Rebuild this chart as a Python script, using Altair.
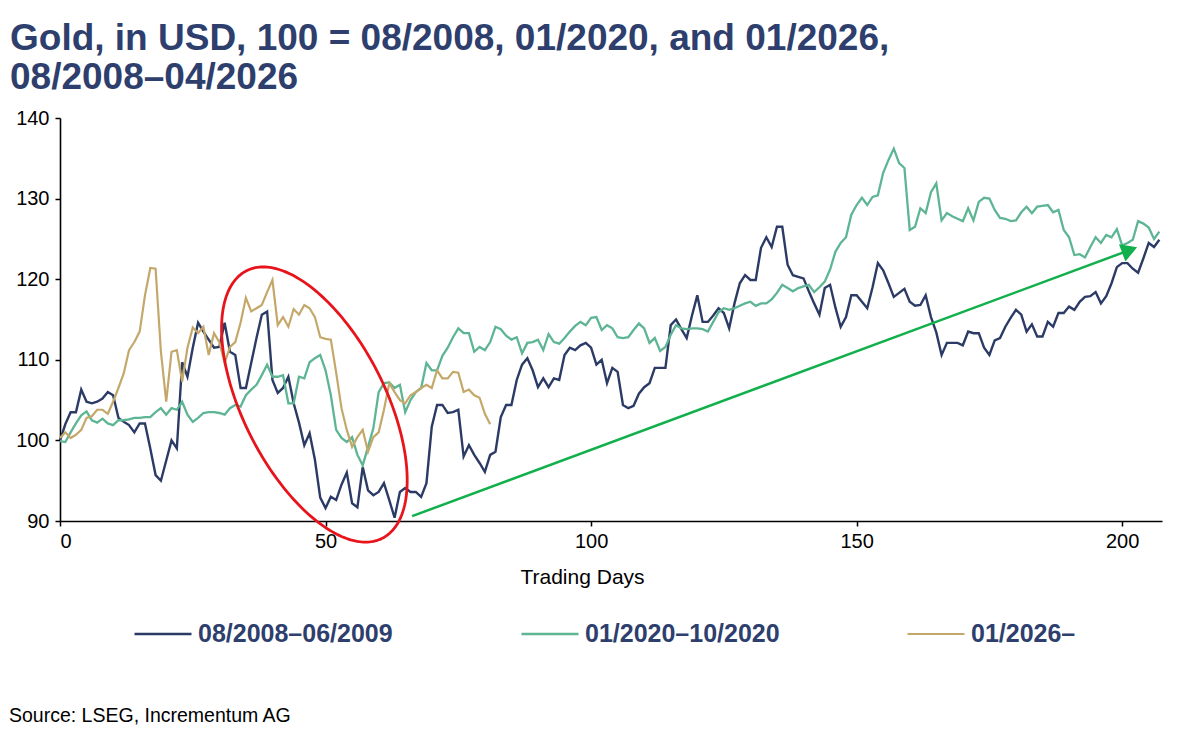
import altair as alt
import pandas as pd
import numpy as np

# ---------------- data ----------------
SERIES = ["08/2008–06/2009", "01/2020–10/2020", "01/2026–"]
COLORS = ["#2b3b66", "#5db594", "#c4a86a"]
WIDTHS = [2.4, 2.2, 3.0]

gold_2008 = [
    100, 102, 103.5, 103.5, 106.3, 104.8, 104.6, 104.8, 105.2, 106,
    105.6, 102.8, 102.3, 101.9, 101, 102.1, 102.1, 99, 95.7, 95,
    97.5, 100, 99, 109.7, 107.9, 111.5, 114.6, 113.5, 112.5, 111.5,
    111.6, 114.6, 111, 110.6, 106.5, 106.5, 109.6, 112.7, 115.6, 116,
    107.5, 105.9, 106.5, 107.9, 104.6, 102.2, 99.4, 100.9, 97.6, 92.9,
    91.6, 93, 92.6, 94.5, 96, 92.2, 91.7, 96.7, 93.8, 93.2,
    93.6, 94.7, 92.6, 90.4, 93.6, 94.1, 93.6, 93.6, 93, 94.7,
    101.7, 104.4, 104.4, 103.4, 103.5, 103.8, 98, 99.4, 98.2, 97.2,
    96.1, 98.2, 98.6, 102.9, 104.4, 104.4, 107.5, 109.4, 110.2, 108.7,
    106.6, 107.7, 106.6, 107.7, 107.5, 110.6, 111.5, 111.2, 111.8, 112.1,
    111.5, 109.4, 110, 107.1, 109, 108.5, 104.4, 104, 104.3, 105.8,
    106.6, 107.1, 109, 109, 109, 114.3, 115, 113.8, 112.7, 115.5,
    118, 114.7, 114.7, 115.5, 116.4, 115.8, 113.9, 117, 119.5, 120.5,
    119.9, 119.9, 123.9, 125.2, 124, 126.5, 126.5, 121.8, 120.5, 120.3,
    120.1, 118.5, 117, 115.6, 118.9, 119.3, 116.5, 114.1, 115.3, 118,
    118, 117.2, 116.4, 119, 122, 121.1, 119.5, 117.8, 118.3, 118.8,
    117.2, 116.7, 116.8, 118, 115.3, 113.4, 110.6, 112.1, 112.1, 112.1,
    111.8, 113.5, 113.3, 113.3, 111.5, 110.6, 112.4, 112.7, 114.1, 115.2,
    116.2, 115.6, 113.5, 114.4, 112.9, 112.9, 114.7, 114.1, 115.8, 115.8,
    116.6, 116.2, 117.2, 117.8, 117.9, 118.4, 117, 117.9, 119.5, 121.5,
    122, 122, 121.3, 120.8, 122.6, 124.5, 124, 124.9,
]

gold_2020 = [
    99.9, 99.8, 101, 102.1, 103.1, 103.6, 102.5, 102.2, 102.7, 102.1,
    101.9, 102.5, 102.5, 102.6, 102.8, 102.8, 102.9, 102.9, 103.5, 104,
    103.2, 104, 103.8, 104.8, 103.2, 102.3, 102.8, 103.4, 103.5, 103.5,
    103.4, 103.2, 104, 104.4, 104.2, 105.6, 106.3, 106.9, 108.1, 109.4,
    107.9, 107.9, 108.1, 104.6, 104.6, 107.9, 107.7, 109.7, 110.2, 110.6,
    108.7, 105.6, 101.3, 100.3, 99.8, 100.4, 98.2, 96.9, 99.2, 101.5,
    106, 107.1, 107.2, 106.5, 106.9, 103.5, 105, 106, 106.5, 109.6,
    108.7, 108.7, 110.5, 111.5, 112.8, 113.9, 113.3, 113.3, 111, 111.6,
    111.2, 112.2, 114.1, 113.8, 113, 112.5, 112.8, 110.8, 112.1, 112.2,
    112.5, 111.2, 113.2, 112.2, 112, 112.7, 113.5, 114.2, 114.7, 114.3,
    115.2, 115.3, 113.7, 114.3, 113.9, 112.8, 112.7, 112.8, 113.7, 114.5,
    113.9, 112.1, 112.7, 111.1, 111.6, 113.1, 114.3, 113.9, 113.8, 113.9,
    113.9, 113.8, 113.5, 114.7, 115.9, 116.4, 116.2, 116.4, 116.7, 117,
    117.2, 116.7, 117, 117, 117.5, 118.3, 119.3, 118.9, 118.5, 118.9,
    119.1, 119.3, 118.4, 119, 119.7, 121.2, 123.4, 124.5, 125.2, 128,
    129.2, 130.1, 129.2, 130.2, 130.4, 133.2, 134.8, 136.2, 134.4, 133.8,
    126.1, 126.5, 128.8, 128.2, 130.8, 131.9, 127.3, 128.2, 127.8, 127.5,
    127.2, 128.8, 127.3, 129.6, 130.1, 130, 128.6, 127.6, 127.5, 127.2,
    127.3, 128.3, 129, 128.2, 129, 129.1, 129.2, 128.3, 128.6, 126.1,
    125.2, 123, 123.1, 122.7, 124, 125.2, 124.5, 125.5, 125.2, 126.2,
    124.2, 124.5, 124.9, 127.2, 126.9, 126.4, 125, 125.9,
]

gold_2026 = [
    100.3, 101, 100.3, 100.7, 101.3, 102.8, 103, 103.8, 103.8, 103.3,
    104.8, 106.5, 108.3, 111.2, 112.2, 113.5, 118, 121.4, 121.3, 111,
    104.8, 111, 111.2, 107.3, 111.5, 114, 113.3, 114.1, 110.6, 113.3,
    112.2, 109.6, 111.6, 112.2, 114.6, 117.7, 116, 116.4, 116.8, 118.4,
    119.9, 114.3, 115.3, 114.1, 116.3, 115.6, 116.8, 116.4, 115.3, 112.8,
    112.6, 112.5, 108.4, 104, 101.3, 99.2, 100.4, 101.3, 98.6, 100.4,
    101, 103.8, 107.1, 106, 105, 104.6, 105.6, 106, 106.5, 106.9,
    106.5, 108.7, 107.7, 107.7, 108.5, 108.4, 106, 106.3, 105.6, 105.3,
    103.3, 102,
]

X_TICKS = [0, 50, 100, 150, 200]
Y_TICKS = [90, 100, 110, 120, 130, 140]
X_DOMAIN = [0, 207.5]
Y_DOMAIN = [90, 140]

TITLE_1 = "Gold, in USD, 100 = 08/2008, 01/2020, and 01/2026,"
TITLE_2 = "08/2008–04/2026"
X_TITLE = "Trading Days"
SOURCE = "Source: LSEG, Incrementum AG"

# annotation definitions (data units for anchors)
ELLIPSE_CENTER = (47.9, 104.45)     # (day, index)
ELLIPSE_SEMI_PX = (150, 71)         # semi-axes in screen px
ELLIPSE_TILT_DEG = 63.1             # clockwise from horizontal
ARROW_START = (66.3, 90.6)
ARROW_TIP = (203.0, 124.0)

NAVY = "#2e3f6e"
RED = "#e8141b"
ARROW_GREEN = "#12b04c"

W, H = 1102, 403
PXD = W / (X_DOMAIN[1] - X_DOMAIN[0])
PXV = H / (Y_DOMAIN[1] - Y_DOMAIN[0])

FONT = "Liberation Sans"

# ---------------- frames ----------------
rows = []
for name, vals in zip(SERIES, [gold_2008, gold_2020, gold_2026]):
    for d, v in enumerate(vals):
        rows.append({"day": d, "value": v, "series": name})
df = pd.DataFrame(rows)

t = np.linspace(0, 2 * np.pi, 241)
phi = np.radians(ELLIPSE_TILT_DEG)
a, b = ELLIPSE_SEMI_PX
dx = a * np.cos(t) * np.cos(phi) - b * np.sin(t) * np.sin(phi)
dy = a * np.cos(t) * np.sin(phi) + b * np.sin(t) * np.cos(phi)
ell = pd.DataFrame({
    "day": ELLIPSE_CENTER[0] + dx / PXD,
    "value": ELLIPSE_CENTER[1] - dy / PXV,
    "k": np.arange(len(t)),
})

# arrow
adx = (ARROW_TIP[0] - ARROW_START[0]) * PXD
ady = -(ARROW_TIP[1] - ARROW_START[1]) * PXV
alen = np.hypot(adx, ady)
ang = np.degrees(np.arctan2(ady, adx)) % 360
head_back = 9.0
head_day = ARROW_TIP[0] - head_back * adx / alen / PXD
head_val = ARROW_TIP[1] + head_back * ady / alen / PXV
arrow_line = pd.DataFrame({"x": [ARROW_START[0]], "y": [ARROW_START[1]],
                           "x2": [head_day], "y2": [head_val]})
arrow_head = pd.DataFrame({"x": [head_day], "y": [head_val]})

xscale = alt.Scale(domain=X_DOMAIN, nice=False, zero=False)
yscale = alt.Scale(domain=Y_DOMAIN, nice=False, zero=False)

x_axis = alt.Axis(values=X_TICKS, title=X_TITLE, grid=False,
                  labelFont=FONT, labelFontSize=20, labelColor="black",
                  labelPadding=5, tickSize=5, tickColor="black", tickWidth=1.5,
                  domainColor="black", domainWidth=1.6,
                  titleFont=FONT, titleFontSize=21, titleFontWeight="normal",
                  titleColor="black", titleX=522, titleY=62,
                  titleBaseline="alphabetic")
y_axis = alt.Axis(values=Y_TICKS, title=None, grid=False,
                  labelFont=FONT, labelFontSize=20, labelColor="black",
                  labelPadding=6, tickSize=5, tickColor="black", tickWidth=1.5,
                  domainColor="black", domainWidth=1.6)

lines = alt.Chart(df).mark_line().encode(
    x=alt.X("day:Q", scale=xscale, axis=x_axis),
    y=alt.Y("value:Q", scale=yscale, axis=y_axis),
    color=alt.Color("series:N", scale=alt.Scale(domain=SERIES, range=COLORS),
                    sort=SERIES,
                    legend=alt.Legend(orient="none", legendX=73, legendY=486,
                                      direction="horizontal", columns=3,
                                      columnPadding=123, title=None,
                                      symbolType="stroke", symbolSize=3249,
                                      symbolStrokeWidth=2.8,
                                      labelFont=FONT, labelFontSize=25,
                                      labelFontWeight="bold", labelColor=NAVY,
                                      labelOffset=5, labelLimit=500)),
    strokeWidth=alt.StrokeWidth("series:N",
                                scale=alt.Scale(domain=SERIES, range=WIDTHS),
                                legend=None),
    order=alt.Order("day:Q"),
)

ellipse = alt.Chart(ell).mark_line(color=RED, strokeWidth=2.8).encode(
    x=alt.X("day:Q", scale=xscale),
    y=alt.Y("value:Q", scale=yscale),
    order=alt.Order("k:Q"),
)

arrow = alt.Chart(arrow_line).mark_rule(color=ARROW_GREEN, strokeWidth=2.5).encode(
    x=alt.X("x:Q", scale=xscale), y=alt.Y("y:Q", scale=yscale),
    x2="x2:Q", y2="y2:Q",
)
head = alt.Chart(arrow_head).mark_point(
    shape="triangle-right", filled=True, color=ARROW_GREEN, opacity=1,
    size=340, angle=float(ang), strokeWidth=0,
).encode(x=alt.X("x:Q", scale=xscale), y=alt.Y("y:Q", scale=yscale))

texts = pd.DataFrame({"t": [TITLE_1, TITLE_2, SOURCE]})
title1 = alt.Chart(texts.iloc[[0]]).mark_text(
    align="left", baseline="alphabetic", font=FONT, fontSize=37,
    fontWeight="bold", color=NAVY,
).encode(text="t:N", x=alt.value(-50), y=alt.value(-68))
title2 = alt.Chart(texts.iloc[[1]]).mark_text(
    align="left", baseline="alphabetic", font=FONT, fontSize=37,
    fontWeight="bold", color=NAVY,
).encode(text="t:N", x=alt.value(-50), y=alt.value(-29))
source = alt.Chart(texts.iloc[[2]]).mark_text(
    align="left", baseline="alphabetic", font=FONT, fontSize=19.5,
    color="black",
).encode(text="t:N", x=alt.value(-51), y=alt.value(604))

chart = alt.layer(lines, ellipse, arrow, head, title1, title2, source).properties(
    width=W, height=H,
    autosize=alt.AutoSizeParams(type="none"),
    padding={"left": 52, "top": 110, "right": 30, "bottom": 212},
).configure(background="white").configure_view(strokeWidth=0)

chart.save("out.html", embed_options={"renderer": "svg", "actions": False})
